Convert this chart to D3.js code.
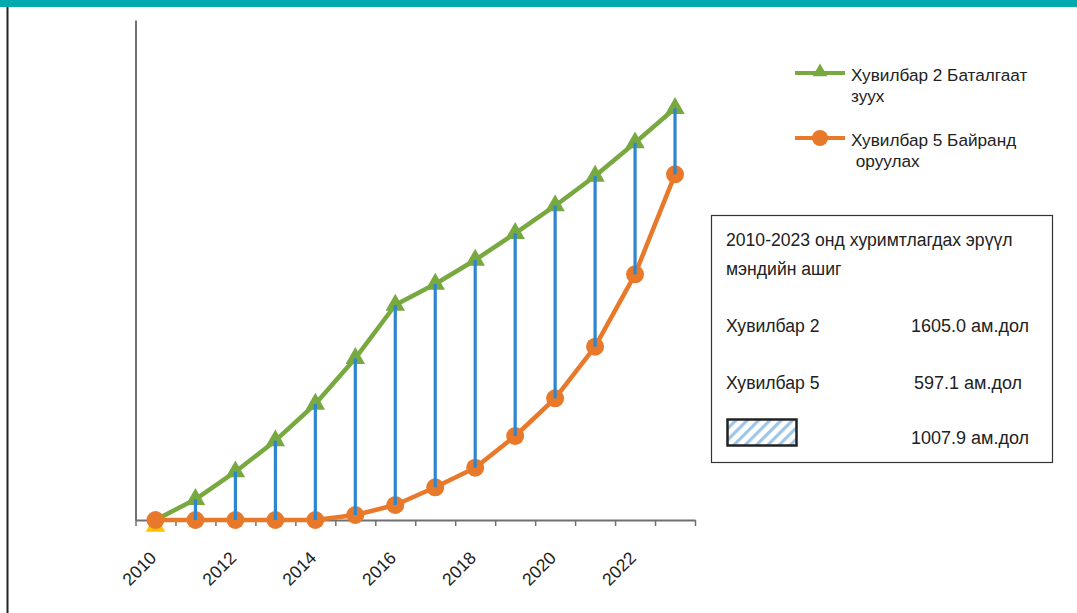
<!DOCTYPE html>
<html>
<head>
<meta charset="utf-8">
<script src="https://cdn.jsdelivr.net/npm/d3@7"></script>
<style>
  html, body { margin: 0; padding: 0; background: #fff; }
  svg { display: block; font-family: "Liberation Sans", Arial, sans-serif; }
</style>
</head>
<body>
<svg id="chart" width="1077" height="613"></svg>
<script>
// ---- data ----
const years = [2010, 2011, 2012, 2013, 2014, 2015, 2016, 2017, 2018, 2019, 2020, 2021, 2022, 2023];
const option2 = [0, 20.7, 48.3, 79.3, 116, 161.7, 215, 236, 260, 286.7, 314.3, 344, 377.3, 411.7];
const option5 = [0, 0, 0, 0, 0, 5, 15, 32.7, 52.3, 84, 121.7, 173.3, 245.7, 345.7];
const tickLabels = ["2010", "2012", "2014", "2016", "2018", "2020", "2022"];
const seriesNames = [["Хувилбар 2 Баталгаат", "зуух"], ["Хувилбар 5 Байранд", " оруулах"]];
const boxTitle = ["2010-2023 онд хуримтлагдах эрүүл", "мэндийн ашиг"];
const boxLabels = ["Хувилбар 2", "Хувилбар 5", ""];
const boxValues = ["1605.0 ам.дол", "597.1 ам.дол", "1007.9 ам.дол"];

const GREEN = "#78a940", ORANGE = "#e9792a", BLUE = "#2e86cf", TEAL = "#00a9ac", YELLOW = "#ffc000";
const FS = 17.6, FS_LEG = 17.2, FS_VAL = 18;

const svg = d3.select("#chart");

// hatch pattern
const defs = svg.append("defs");
const pat = defs.append("pattern").attr("id", "hatch")
  .attr("patternUnits", "userSpaceOnUse").attr("width", 8).attr("height", 8)
  .attr("patternTransform", "rotate(45)");
pat.append("rect").attr("width", 8).attr("height", 8).attr("fill", "#fff");
pat.append("rect").attr("width", 3.2).attr("height", 8).attr("fill", "#9fc5e8");

// frame
svg.append("rect").attr("x", 0).attr("y", 0).attr("width", 1077).attr("height", 7).attr("fill", TEAL);
svg.append("line").attr("x1", 7.5).attr("x2", 7.5).attr("y1", 7).attr("y2", 613)
  .attr("stroke", "#222").attr("stroke-width", 2);

// scales
const x = d3.scaleBand().domain(years).range([135.5, 695]).padding(0);
const cx = d => x(d) + x.bandwidth() / 2;
const xEdge = d3.scaleLinear().domain([years[0] - 0.5, years[years.length - 1] + 0.5]).range([135.5, 695]);
const y = d3.scaleLinear().domain([0, 500]).range([520, 20]);

// y axis (line only)
const yAxis = svg.append("g").attr("transform", "translate(135.5,0)")
  .call(d3.axisLeft(y).tickValues([]).tickSizeOuter(0));
yAxis.select(".domain").attr("stroke", "#707070").attr("stroke-width", 2);

// x axis with ticks between categories
const edges = d3.range(years[0] - 0.5, years[years.length - 1] + 1, 1);
const xAxis = svg.append("g").attr("transform", "translate(0,520)")
  .call(d3.axisBottom(xEdge).tickValues(edges).tickFormat("").tickSize(6).tickSizeOuter(0));
xAxis.select(".domain").attr("stroke", "#707070").attr("stroke-width", 2);
xAxis.selectAll(".tick line").attr("stroke", "#707070").attr("stroke-width", 1.5);

// x labels
svg.append("g").selectAll("text").data(tickLabels).join("text")
  .attr("transform", d => `translate(${cx(+d) + 2},559) rotate(-45)`)
  .attr("text-anchor", "end")
  .attr("font-size", FS).attr("fill", "#222")
  .text(d => d);

const g2 = years.map((yr, i) => ({ yr, v: option2[i] }));
const g5 = years.map((yr, i) => ({ yr, v: option5[i] }));
const line = d3.line().x(d => cx(d.yr)).y(d => y(d.v));

const tri = d3.symbol().type(d3.symbolTriangle).size(165);
const triLegend = d3.symbol().type(d3.symbolTriangle).size(95);

// green series
svg.append("path").datum(g2).attr("d", line).attr("fill", "none")
  .attr("stroke", GREEN).attr("stroke-width", 4.5).attr("stroke-linejoin", "round");
svg.append("g").selectAll("path").data(g2).join("path")
  .attr("d", tri)
  .attr("transform", (d, i) => `translate(${cx(d.yr)},${y(d.v) + (i === 0 ? 6 : 0)})`)
  .attr("fill", (d, i) => i === 0 ? YELLOW : GREEN);

// orange series
svg.append("path").datum(g5).attr("d", line).attr("fill", "none")
  .attr("stroke", ORANGE).attr("stroke-width", 4.5).attr("stroke-linejoin", "round");
svg.append("g").selectAll("circle").data(g5).join("circle")
  .attr("cx", d => cx(d.yr)).attr("cy", d => y(d.v)).attr("r", 9)
  .attr("fill", ORANGE);

// difference lines
svg.append("g").selectAll("line").data(years.filter((yr, i) => option2[i] - option5[i] > 0)).join("line")
  .attr("x1", d => cx(d)).attr("x2", d => cx(d))
  .attr("y1", d => y(option2[years.indexOf(d)]))
  .attr("y2", d => y(option5[years.indexOf(d)]))
  .attr("stroke", BLUE).attr("stroke-width", 3.2);

// legend
const leg = svg.append("g");
[0, 1].forEach(i => {
  const ly = i === 0 ? 73 : 138;
  const col = i === 0 ? GREEN : ORANGE;
  leg.append("line").attr("x1", 795).attr("x2", 845).attr("y1", ly).attr("y2", ly)
    .attr("stroke", col).attr("stroke-width", 4);
  if (i === 0) {
    leg.append("path").attr("d", triLegend).attr("transform", `translate(820,${ly - 1})`).attr("fill", col);
  } else {
    leg.append("circle").attr("cx", 820).attr("cy", ly).attr("r", 8).attr("fill", col);
  }
  leg.append("text").attr("x", 851).attr("y", ly + 8).attr("font-size", FS_LEG).attr("fill", "#222")
    .text(seriesNames[i][0]);
  leg.append("text").attr("x", 851).attr("y", ly + 29).attr("font-size", FS_LEG).attr("fill", "#222")
    .attr("xml:space", "preserve").style("white-space", "pre")
    .text(seriesNames[i][1]);
});

// summary box
const box = svg.append("g");
box.append("rect").attr("x", 711.5).attr("y", 215.5).attr("width", 341).attr("height", 247)
  .attr("fill", "#fff").attr("stroke", "#333").attr("stroke-width", 1.2);
boxTitle.forEach((t, i) => {
  box.append("text").attr("x", 726).attr("y", 246 + i * 29).attr("font-size", FS).attr("fill", "#222").text(t);
});
const rowY = [332, 389, 444];
const valX = [911, 914, 911];
boxLabels.forEach((t, i) => {
  if (t) box.append("text").attr("x", 726).attr("y", rowY[i]).attr("font-size", FS).attr("fill", "#222").text(t);
  box.append("text").attr("x", valX[i]).attr("y", rowY[i]).attr("font-size", FS_VAL).attr("fill", "#222").text(boxValues[i]);
});
box.append("rect").attr("x", 727.5).attr("y", 419.5).attr("width", 69).attr("height", 26)
  .attr("fill", "url(#hatch)").attr("stroke", "#222").attr("stroke-width", 2.5);
</script>
</body>
</html>
